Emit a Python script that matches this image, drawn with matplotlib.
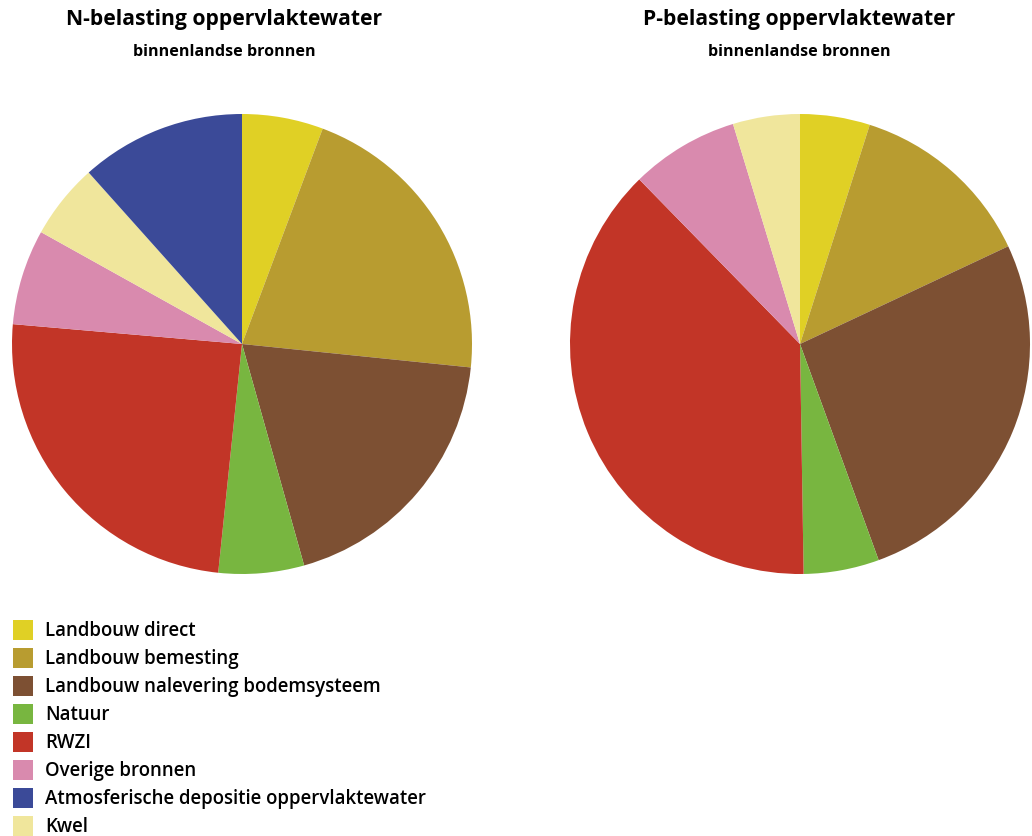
import matplotlib.pyplot as plt
from matplotlib.patches import Rectangle

# bronnen (legend order)
bronnen = ["Landbouw direct", "Landbouw bemesting", "Landbouw nalevering bodemsysteem",
           "Natuur", "RWZI", "Overige bronnen", "Atmosferische depositie oppervlaktewater", "Kwel"]
kleuren = ["#E0D025", "#B89C30", "#7D5033", "#78B640", "#C23527", "#D98AAE", "#3B4A98", "#F0E69C"]

# order of the slices, clockwise from 12 o'clock
taart_volgorde = [0, 1, 2, 3, 4, 5, 7, 6]

# aandeel per bron in %, legend order
n_aandeel = [5.7, 20.9, 19.0, 6.0, 24.7, 6.7, 11.6, 5.3]
p_aandeel = [4.9, 13.1, 26.4, 5.3, 37.9, 7.6, 0.0, 4.7]

W, H = 1032, 837
fig = plt.figure(figsize=(W / 100, H / 100), dpi=100)
plt.rcParams['font.family'] = ['Open Sans', 'DejaVu Sans']


def taart(cx, cy, r, waarden, titel, subtitel, tx):
    ax = fig.add_axes([(cx - r) / W, (H - cy - r) / H, 2 * r / W, 2 * r / H])
    vals = [waarden[i] for i in taart_volgorde]
    cols = [kleuren[i] for i in taart_volgorde]
    ax.pie(vals, colors=cols, startangle=90, counterclock=False, radius=1,
           wedgeprops=dict(linewidth=0))
    ax.set_xlim(-1, 1)
    ax.set_ylim(-1, 1)
    ax.set_aspect('auto')
    ax.axis('off')
    fig.text(tx / W, 1 - 19 / H, titel, ha='center', va='center', fontsize=15.2, fontweight='bold')
    fig.text(tx / W, 1 - 52 / H, subtitel, ha='center', va='center', fontsize=11.6, fontweight='bold')


taart(242, 345, 230, n_aandeel, "N-belasting oppervlaktewater", "binnenlandse bronnen", 224)
taart(800, 345, 230, p_aandeel, "P-belasting oppervlaktewater", "binnenlandse bronnen", 799)

# legend
for k, (naam, kl) in enumerate(zip(bronnen, kleuren)):
    y = 631 + k * 28
    fig.patches.append(Rectangle((13 / W, 1 - (y + 10) / H), 20 / W, 20 / H,
                                 transform=fig.transFigure, color=kl, linewidth=0))
    fig.text(45 / W, 1 - y / H, naam, ha='left', va='center', fontsize=13.4, fontweight='semibold')

fig.savefig("out.png", dpi=100)
